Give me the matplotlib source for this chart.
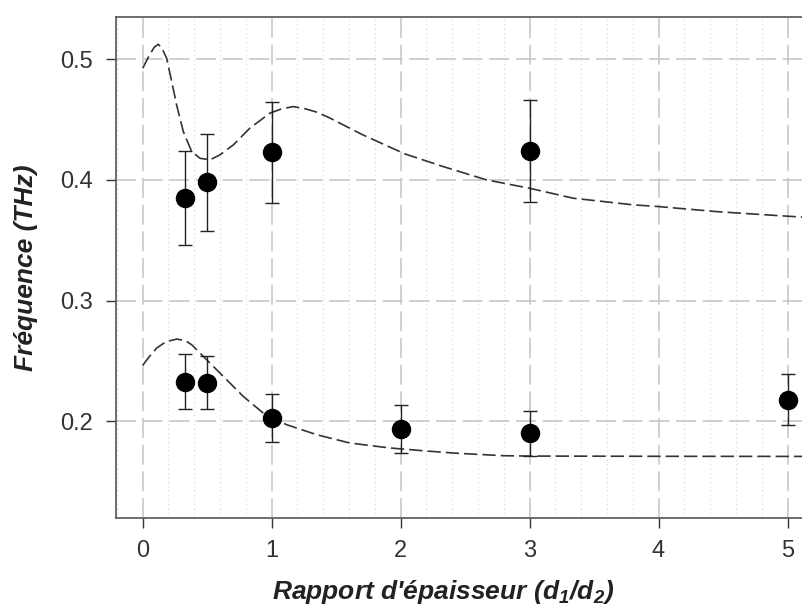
"""Fréquence vs rapport d'épaisseur — points mesurés + courbes calculées."""

import matplotlib.pyplot as plt
from matplotlib.ticker import MultipleLocator

plt.rcParams["font.family"] = ["Liberation Sans", "DejaVu Sans"]
plt.rcParams["mathtext.fontset"] = "custom"
plt.rcParams["mathtext.rm"] = "Liberation Sans:italic:bold"
plt.rcParams["mathtext.it"] = "Liberation Sans:italic:bold"

# measured points (upper mode)
x_high = [0.33, 0.5, 1.0, 3.0]
f_high = [0.385, 0.398, 0.423, 0.424]
err_high = [0.039, 0.040, 0.042, 0.042]

# measured points (lower mode)
x_low = [0.33, 0.5, 1.0, 2.0, 3.0, 5.0]
f_low = [0.233, 0.232, 0.203, 0.194, 0.190, 0.218]
err_low = [0.023, 0.022, 0.020, 0.020, 0.019, 0.021]

# calculated curves
xc_high = [0.0, 0.05, 0.09, 0.121, 0.15, 0.186, 0.225, 0.263, 0.315, 0.38, 0.444,
           0.522, 0.599, 0.702, 0.832, 0.987, 1.08, 1.168, 1.26, 1.349, 1.452,
           1.7, 2.033, 2.33, 2.665, 2.997, 3.338, 3.803, 3.997, 4.45, 4.837, 5.12]
fc_high = [0.4925, 0.503, 0.510, 0.5124, 0.509, 0.5008, 0.4815, 0.4622, 0.440,
           0.4235, 0.418, 0.4167, 0.4208, 0.429, 0.443, 0.4554, 0.459, 0.4608,
           0.459, 0.4562, 0.4513, 0.4377, 0.4216, 0.4111, 0.4001, 0.3932, 0.3849,
           0.3794, 0.378, 0.3738, 0.3711, 0.3692]

xc_low = [0.0, 0.05, 0.109, 0.18, 0.264, 0.33, 0.38, 0.496, 0.625, 0.78, 0.935,
          1.116, 1.349, 1.607, 1.917, 2.2, 2.408, 2.796, 3.0, 4.0, 5.12]
fc_low = [0.2464, 0.2535, 0.2608, 0.2660, 0.2682, 0.2670, 0.2635, 0.2511, 0.2373,
          0.2207, 0.2069, 0.1973, 0.189, 0.1821, 0.178, 0.1755, 0.1738, 0.1716,
          0.1713, 0.1711, 0.171]

fig = plt.figure(figsize=(8.03, 6.10), dpi=100)
ax = fig.add_axes([116 / 803, 92 / 610, 687 / 803, 501 / 610])

# grid: long-dashed majors, dotted vertical minors
ax.xaxis.set_major_locator(MultipleLocator(1))
ax.xaxis.set_minor_locator(MultipleLocator(0.2))
ax.yaxis.set_major_locator(MultipleLocator(0.1))
ax.grid(which="major", color="#c8c8c8", linestyle=(0, (12, 4)), linewidth=1.2)
ax.grid(which="minor", axis="x", color="#d4d4d4", linestyle=(0, (1, 3)), linewidth=0.8)
ax.set_axisbelow(True)

ax.plot(xc_high, fc_high, color="#333333", linestyle=(0, (8, 3)), linewidth=1.2, zorder=2)
ax.plot(xc_low, fc_low, color="#333333", linestyle=(0, (8, 3)), linewidth=1.2, zorder=2)

for xs, ys, es in [(x_high, f_high, err_high), (x_low, f_low, err_low)]:
    ax.errorbar(xs, ys, yerr=es, fmt="o", color="black", markersize=13,
                ecolor="#222222", elinewidth=1.0, capsize=5, capthick=1.0, zorder=3)

ax.set_xlim(-0.207, 5.12)
ax.set_ylim(0.12, 0.535)
ax.set_yticks([0.2, 0.3, 0.4, 0.5])
ax.set_yticklabels(["0.2", "0.3", "0.4", "0.5"])

ax.tick_params(which="major", direction="out", length=7, width=1.0,
               labelsize=17, colors="#333333")
ax.tick_params(axis="y", pad=10)
ax.tick_params(axis="x", pad=9)
ax.tick_params(which="minor", length=0)
ax.spines["right"].set_visible(False)
for s in ["left", "bottom", "top"]:
    ax.spines[s].set_color("#555555")
    ax.spines[s].set_linewidth(1.2)

ax.set_xlabel("Rapport d'épaisseur (d$_1$/d$_2$)", fontsize=19, style="italic",
              fontweight="bold", color="#222222")
ax.set_ylabel("Fréquence (THz)", fontsize=19, style="italic",
              fontweight="bold", color="#222222")
ax.xaxis.set_label_coords(0.4755, -0.12)
ax.yaxis.set_label_coords(-0.113, 0.5)

plt.savefig("out.png", dpi=100)
plt.close()
